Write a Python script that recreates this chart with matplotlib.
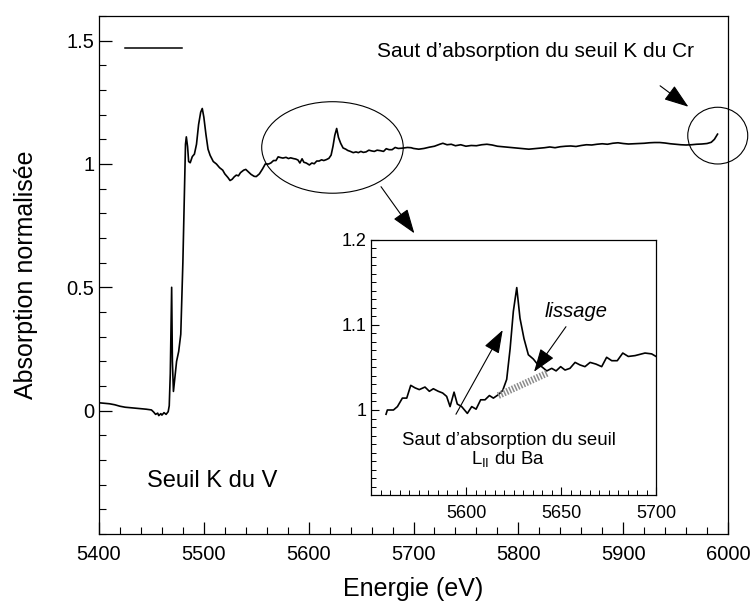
import numpy as np
import matplotlib
matplotlib.use("Agg")
import matplotlib.pyplot as plt
from matplotlib.patches import Ellipse
from matplotlib.ticker import MultipleLocator, FixedLocator

plt.rcParams['font.family'] = ['Liberation Sans', 'DejaVu Sans']
plt.rcParams['mathtext.fontset'] = 'custom'
plt.rcParams['mathtext.rm'] = 'Liberation Sans'

# ---- data ----
pre_energy = [5400, 5405, 5410, 5415, 5420, 5425, 5430, 5435, 5440, 5445, 5450, 5452,
              5454, 5456, 5457, 5459, 5460, 5462, 5464, 5466, 5467, 5468, 5469.3, 5470,
              5471, 5472, 5474, 5476, 5478, 5480, 5481.5, 5482.5, 5483.3, 5484.5, 5485.5,
              5487, 5489, 5491, 5493, 5495, 5497, 5498.5, 5500, 5502, 5504, 5506, 5509,
              5512, 5515, 5518, 5520, 5523, 5525, 5527, 5529, 5531, 5533, 5535, 5538,
              5540, 5542, 5545, 5548, 5550, 5553, 5556]
pre_absorb = [0.032, 0.030, 0.028, 0.024, 0.018, 0.014, 0.012, 0.010, 0.008, 0.006, 0.003, -0.005,
              -0.015, -0.010, -0.020, -0.012, -0.018, -0.008, -0.015, -0.004, 0.02, 0.15, 0.50, 0.20,
              0.078, 0.12, 0.20, 0.24, 0.31, 0.60, 0.90, 1.08, 1.11, 1.07, 1.01,
              1.005, 1.03, 1.04, 1.08, 1.16, 1.21, 1.225, 1.19, 1.12, 1.06, 1.035, 1.01,
              1.0, 0.985, 0.975, 0.96, 0.945, 0.933, 0.938, 0.948, 0.955, 0.952, 0.965, 0.975,
              0.978, 0.97, 0.958, 0.950, 0.949, 0.96, 0.98]

zoom_energy = [5557.9, 5558.6, 5561.8, 5563.9, 5566.5, 5568.8, 5570.9, 5573.2, 5575.4, 5578.4,
               5580.7, 5582.8, 5585.4, 5587.7, 5589.8, 5591.6, 5593.7, 5595.4, 5597.7, 5600.7,
               5603.0, 5605.3, 5607.7, 5610.0, 5612.3, 5614.4, 5617.0, 5619.3, 5621.4, 5623.2,
               5624.9, 5626.7, 5628.4, 5630.5, 5632.8, 5635.4, 5637.2, 5639.8, 5642.5, 5645.1,
               5647.4, 5649.8, 5652.1, 5654.7, 5657.4, 5660.0, 5662.6, 5665.3, 5668.4, 5671.4,
               5674.0, 5676.7, 5679.6, 5682.5, 5685.4, 5689.0, 5694.2, 5697.7, 5700.0]
zoom_absorb = [0.995, 1.0, 1.0, 1.004, 1.014, 1.014, 1.029, 1.026, 1.024, 1.027,
               1.022, 1.025, 1.022, 1.020, 1.016, 1.004, 1.021, 1.007, 1.004, 0.996,
               1.004, 1.001, 1.012, 1.012, 1.017, 1.014, 1.018, 1.023, 1.036, 1.072,
               1.116, 1.144, 1.108, 1.084, 1.065, 1.060, 1.055, 1.051, 1.046, 1.049,
               1.046, 1.051, 1.047, 1.049, 1.056, 1.053, 1.051, 1.056, 1.054, 1.051,
               1.062, 1.058, 1.058, 1.067, 1.063, 1.064, 1.067, 1.066, 1.063]

post_energy = [5705, 5710, 5715, 5720, 5725, 5728, 5732, 5736, 5740, 5745, 5750, 5755, 5760,
               5765, 5770, 5775, 5780, 5785, 5790, 5795, 5800, 5805, 5810, 5815, 5820, 5825,
               5830, 5835, 5840, 5845, 5850, 5855, 5860, 5865, 5870, 5875, 5880, 5885, 5890,
               5895, 5900, 5905, 5910, 5915, 5920, 5925, 5930, 5935, 5940, 5945, 5950, 5955,
               5960, 5965, 5970, 5975, 5980, 5984, 5987, 5990]
post_absorb = [1.060, 1.063, 1.068, 1.072, 1.080, 1.084, 1.078, 1.080, 1.074, 1.078, 1.072, 1.075, 1.074,
               1.078, 1.080, 1.077, 1.072, 1.070, 1.068, 1.066, 1.064, 1.062, 1.060, 1.062, 1.064, 1.066,
               1.069, 1.066, 1.070, 1.072, 1.073, 1.071, 1.075, 1.078, 1.077, 1.080, 1.082, 1.080, 1.084,
               1.086, 1.083, 1.081, 1.082, 1.083, 1.084, 1.086, 1.087, 1.087, 1.085, 1.082, 1.080, 1.078,
               1.077, 1.078, 1.080, 1.081, 1.083, 1.088, 1.100, 1.121]

smooth_energy = [5617.0, 5643.3]
smooth_absorb = [1.017, 1.044]

main_xticks = [5400, 5500, 5600, 5700, 5800, 5900, 6000]
main_yticks = [0, 0.5, 1, 1.5]
main_yticklabels = ['0', '0.5', '1', '1.5']
inset_xticks = [5600, 5650, 5700]
inset_yticks = [1.0, 1.1, 1.2]
inset_yticklabels = ['1', '1.1', '1.2']

energy = pre_energy + zoom_energy + post_energy
absorb = pre_absorb + zoom_absorb + post_absorb

# ---- figure ----
fig = plt.figure(figsize=(7.5, 6.03), dpi=100)
ax = fig.add_axes([0.132, 0.1144, 0.8387, 0.8591])
ax.plot(energy, absorb, color='black', lw=1.2)
ax.set_xlim(5400, 6000)
ax.set_ylim(-0.5, 1.6)
ax.xaxis.set_major_locator(FixedLocator(main_xticks))
ax.xaxis.set_minor_locator(MultipleLocator(20))
ax.set_yticks(main_yticks)
ax.set_yticklabels(main_yticklabels)
ax.yaxis.set_minor_locator(MultipleLocator(0.1))
ax.tick_params(which='both', direction='in', top=False, right=False, labelsize=14.5)
ax.tick_params(which='major', length=9, width=0.9)
ax.tick_params(which='minor', length=5, width=0.8)
ax.tick_params(axis='x', pad=8)
for s in ax.spines.values():
    s.set_linewidth(0.9)
ax.set_xlabel('Energie (eV)', fontsize=18, labelpad=9)
ax.set_ylabel('Absorption normalisée', fontsize=18, labelpad=20)

# legend-like line (top left)
ax.plot([0.0413, 0.132], [0.938, 0.938], transform=ax.transAxes, color='black', lw=1.1)

ax.text(5815.9, 1.4547, 'Saut d’absorption du seuil K du Cr', fontsize=15,
        ha='center', va='center')
ax.text(5507.8, -0.286, 'Seuil K du V', fontsize=17, ha='center', va='center')

ell1 = Ellipse((5622.7, 1.067), 135, 0.371, fill=False, lw=0.8, color='black')
ax.add_patch(ell1)
ell2 = Ellipse((5990.2, 1.115), 57.2, 0.23, fill=False, lw=0.8, color='black', clip_on=False)
ax.add_patch(ell2)

arrowkw = dict(arrowstyle='-|>,head_length=0.85,head_width=0.3', color='black', lw=0.8,
               mutation_scale=18, shrinkA=0, shrinkB=0)
ax.annotate('', xy=(5700.8, 0.719), xytext=(5669, 0.908), arrowprops=arrowkw,
            annotation_clip=False)
ax.annotate('', xy=(5962.2, 1.232), xytext=(5935.2, 1.317), arrowprops=arrowkw,
            annotation_clip=False)

# ---- inset ----
axi = fig.add_axes([0.4947, 0.1791, 0.38, 0.4229])
axi.plot(zoom_energy, zoom_absorb, color='black', lw=1.2)
axi.plot(smooth_energy, smooth_absorb, color='#8c8c8c', lw=5,
         dashes=(0.22, 0.22), solid_capstyle='butt', dash_capstyle='butt')
axi.set_xlim(5550, 5700)
axi.set_ylim(0.9, 1.2)
axi.xaxis.set_major_locator(FixedLocator(inset_xticks))
axi.xaxis.set_minor_locator(MultipleLocator(5))
axi.set_yticks(inset_yticks)
axi.set_yticklabels(inset_yticklabels)
axi.yaxis.set_minor_locator(MultipleLocator(0.01))
axi.tick_params(which='both', direction='in', top=False, right=False, labelsize=13)
axi.tick_params(which='major', length=6, width=0.8)
axi.tick_params(which='minor', length=3.5, width=0.7)
axi.tick_params(axis='x', pad=7)
for s in axi.spines.values():
    s.set_linewidth(0.9)

axi.text(5622.7, 0.9647, 'Saut d’absorption du seuil', fontsize=13.4, ha='center', va='center')
axi.text(5622.1, 0.9412, r'L$_{\mathrm{II}}$ du Ba', fontsize=13.4, ha='center', va='center')
axi.text(5658.2, 1.1156, 'lissage', fontsize=14.5, style='italic', ha='center', va='center')

arrowkw2 = dict(arrowstyle='-|>,head_length=0.85,head_width=0.3', color='black', lw=0.8,
                mutation_scale=17, shrinkA=0, shrinkB=0)
axi.annotate('', xy=(5619.3, 1.094), xytext=(5594.7, 0.995), arrowprops=arrowkw2)
axi.annotate('', xy=(5635.8, 1.045), xytext=(5652.6, 1.098), arrowprops=arrowkw2)

fig.savefig('out.png', dpi=100)
